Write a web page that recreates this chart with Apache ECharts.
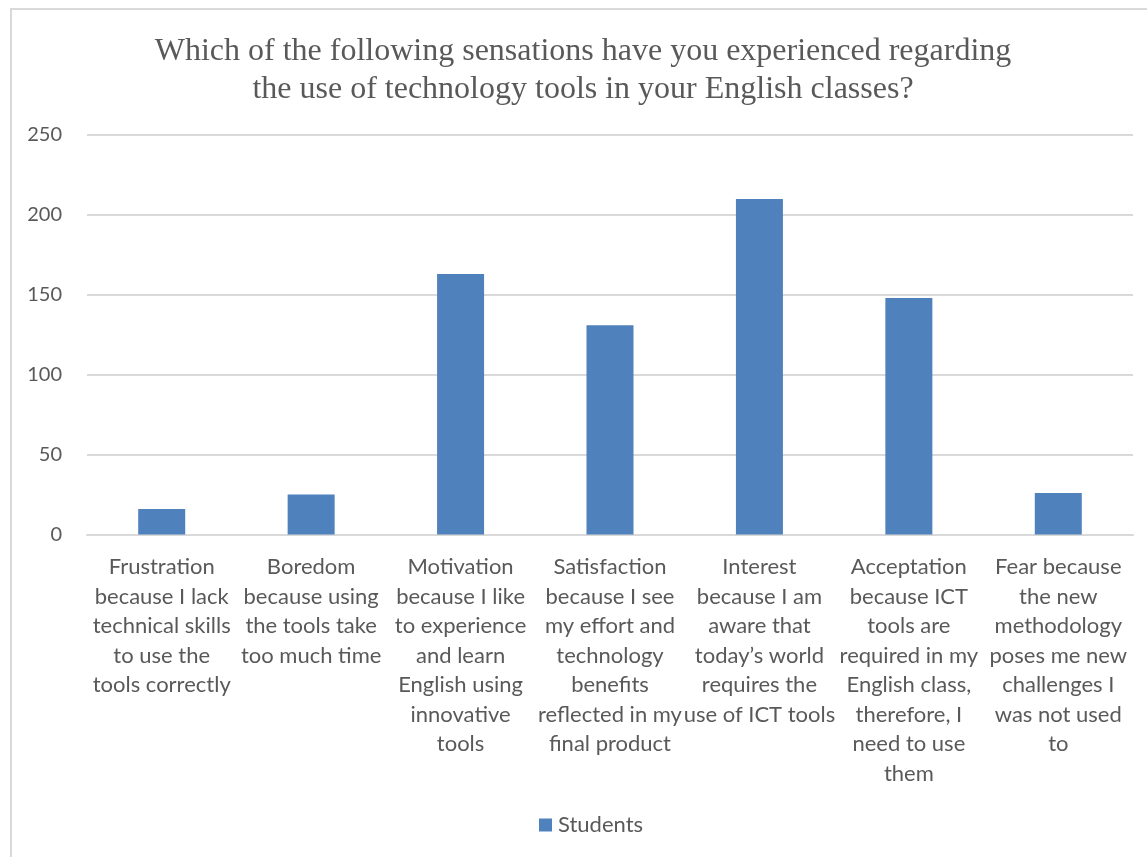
<!DOCTYPE html>
<html>
<head>
<meta charset="utf-8">
<script src="https://cdn.jsdelivr.net/npm/echarts@6/dist/echarts.min.js"></script>
<style>
html,body{margin:0;padding:0;background:#fff;}
#chart{width:1147px;height:857px;}
</style>
</head>
<body>
<div id="chart"></div>
<script>
const titleLines = [
  "Which of the following sensations have you experienced regarding",
  "the use of technology tools in your English classes?"
];
const categories = [
  "Frustration\nbecause I lack\ntechnical skills\nto use the\ntools correctly",
  "Boredom\nbecause using\nthe tools take\ntoo much time",
  "Motivation\nbecause I like\nto experience\nand learn\nEnglish using\ninnovative\ntools",
  "Satisfaction\nbecause I see\nmy effort and\ntechnology\nbenefits\nreflected in my\nfinal product",
  "Interest\nbecause I am\naware that\ntoday\u2019s world\nrequires the\nuse of ICT tools",
  "Acceptation\nbecause ICT\ntools are\nrequired in my\nEnglish class,\ntherefore, I\nneed to use\nthem",
  "Fear because\nthe new\nmethodology\nposes me new\nchallenges I\nwas not used\nto"
];
const seriesName = "Students";
const studentValues = [16, 25, 163, 131, 210, 148, 26];
const yMin = 0, yMax = 250, yInterval = 50;

const chart = echarts.init(document.getElementById('chart'), null, {renderer: 'canvas'});
const sans = 'Lato';
chart.setOption({
  animation: false,
  backgroundColor: '#fff',
  title: {
    text: titleLines.join('\n'),
    left: 583,
    top: 33,
    padding: 0,
    textAlign: 'center',
    textStyle: {
      fontFamily: 'Liberation Serif',
      fontWeight: 'normal',
      fontSize: 32,
      lineHeight: 38,
      color: '#595959'
    }
  },
  graphic: [{
    type: 'rect',
    shape: {x: 11, y: 9, width: 1200, height: 900},
    style: {fill: 'none', stroke: '#d9d9d9', lineWidth: 2},
    silent: true,
    z: -1
  }],
  legend: {
    data: [seriesName],
    left: 539,
    top: 814,
    padding: 0,
    itemWidth: 13,
    itemHeight: 13,
    icon: 'rect',
    textStyle: {fontFamily: sans, fontSize: 22, color: '#595959', padding: [0, 0, 0, 1]}
  },
  grid: {left: 87, right: 14, top: 135, bottom: 322.5, containLabel: false},
  xAxis: {
    type: 'category',
    data: categories,
    axisLine: {lineStyle: {color: '#d9d9d9', width: 2}},
    axisTick: {show: false},
    axisLabel: {
      interval: 0,
      margin: 18,
      fontFamily: sans,
      fontSize: 22,
      lineHeight: 29.5,
      color: '#595959',
      align: 'center'
    }
  },
  yAxis: {
    type: 'value',
    min: yMin,
    max: yMax,
    interval: yInterval,
    axisLine: {show: false},
    axisTick: {show: false},
    splitLine: {lineStyle: {color: '#d9d9d9', width: 2}},
    axisLabel: {fontFamily: sans, fontSize: 20, color: '#595959', margin: 25}
  },
  series: [{
    name: seriesName,
    type: 'bar',
    data: studentValues,
    barWidth: 47,
    itemStyle: {color: '#4f81bd'}
  }]
});
</script>
</body>
</html>
